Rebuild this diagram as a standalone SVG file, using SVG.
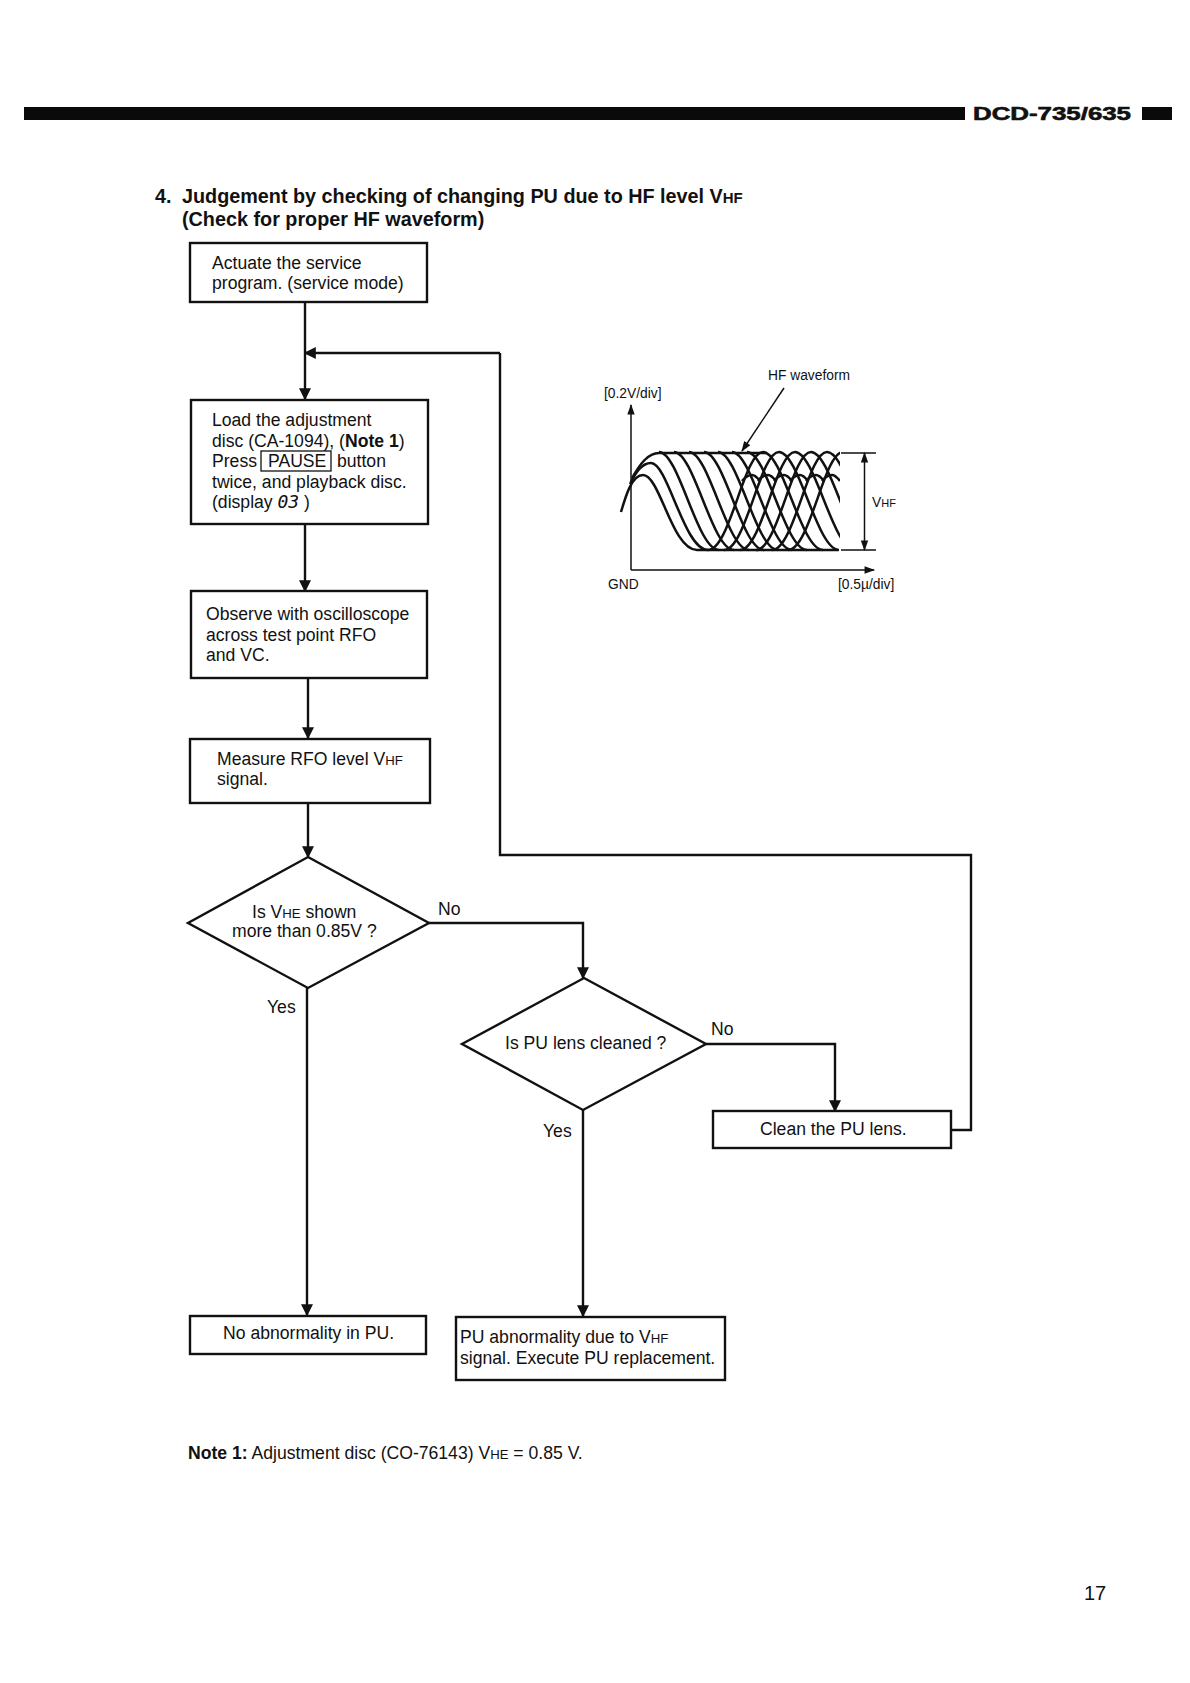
<svg xmlns="http://www.w3.org/2000/svg" xmlns:xlink="http://www.w3.org/1999/xlink" width="1190" height="1683" viewBox="0 0 1190 1683">
<style>
text{font-family:"Liberation Sans",Arial,sans-serif;font-size:17.6px;fill:#111}
.b{font-weight:700}
.s{font-size:13.2px}
.t{font-size:19.8px;font-weight:700}
.ts{font-size:15px}
.c{font-size:13.8px}
.cs{font-size:11px}
.box{fill:#fff;stroke:#111;stroke-width:2.4}
.ln{fill:none;stroke:#111;stroke-width:2.4}
.thin{fill:none;stroke:#111;stroke-width:1.5}
.wave{fill:none;stroke:#111;stroke-width:2.5}
</style>
<defs>
<marker id="ah" viewBox="0 0 10 10" refX="9" refY="5" markerWidth="5.5" markerHeight="5" markerUnits="strokeWidth" orient="auto"><path d="M0 0L10 5L0 10Z" fill="#111"/></marker>
<marker id="ahs" viewBox="0 0 10 10" refX="9" refY="5" markerWidth="12" markerHeight="7" markerUnits="strokeWidth" orient="auto-start-reverse"><path d="M0 1.500L10 5L0 8.500Z" fill="#111"/></marker>
<path id="fall" d="M0 0C20 0 38 98 60 98"/>
<path id="rise" d="M0 98C22 98 36 0 55 0"/>
<path id="bump" d="M0 6C4 1 8 0 10 0C12 0 14 1 18 6"/>
<clipPath id="cw"><rect x="615" y="445" width="225" height="112"/></clipPath>
</defs>
<rect width="1190" height="1683" fill="#fff"/>
<g id="header">
<rect x="24" y="107" width="941" height="13" fill="#0a0a0a"/>
<text x="973" y="120" class="b" style="font-size:18px;stroke:#111;stroke-width:.6" textLength="158" lengthAdjust="spacingAndGlyphs">DCD-735/635</text>
<rect x="1142" y="107" width="30" height="13" fill="#0a0a0a"/>
</g>
<g id="title">
<text x="155" y="203" class="t">4.</text>
<text x="182" y="203" class="t">Judgement by checking of changing PU due to HF level V<tspan class="ts">HF</tspan></text>
<text x="182" y="226" class="t">(Check for proper HF waveform)</text>
</g>
<g id="connectors">
<path class="ln" d="M305 302V399" marker-end="url(#ah)"/>
<path class="ln" d="M500 353H305" marker-end="url(#ah)"/>
<path class="ln" d="M951 1130H971V855H500V353"/>
<path class="ln" d="M305 524V591" marker-end="url(#ah)"/>
<path class="ln" d="M308 678V738" marker-end="url(#ah)"/>
<path class="ln" d="M308 803V857" marker-end="url(#ah)"/>
<path class="ln" d="M429 923H583V978" marker-end="url(#ah)"/>
<path class="ln" d="M706 1044H835V1111" marker-end="url(#ah)"/>
<path class="ln" d="M307 988V1315" marker-end="url(#ah)"/>
<path class="ln" d="M583 1110V1316" marker-end="url(#ah)"/>
</g>
<g id="n1">
<rect class="box" x="190" y="243" width="237" height="59"/>
<text x="212" y="269">Actuate the service</text>
<text x="212" y="289">program. (service mode)</text>
</g>
<g id="n2">
<rect class="box" x="191" y="400" width="237" height="124"/>
<text x="212" y="426">Load the adjustment</text>
<text x="212" y="446.500">disc (CA-1094), (<tspan class="b">Note 1</tspan>)</text>
<text x="212" y="467">Press</text>
<rect x="261" y="451" width="70" height="20" fill="none" stroke="#111" stroke-width="1.3"/>
<text x="268" y="467">PAUSE</text>
<text x="337" y="467">button</text>
<text x="212" y="487.500">twice, and playback disc.</text>
<text x="212" y="508">(display <tspan font-style="italic" style="font-family:'DejaVu Sans Mono',monospace;font-size:18px">03</tspan> )</text>
</g>
<g id="n3">
<rect class="box" x="191" y="591" width="236" height="87"/>
<text x="206" y="620">Observe with oscilloscope</text>
<text x="206" y="641">across test point RFO</text>
<text x="206" y="661">and VC.</text>
</g>
<g id="n4">
<rect class="box" x="190" y="739" width="240" height="64"/>
<text x="217" y="765">Measure RFO level V<tspan class="s">HF</tspan></text>
<text x="217" y="785">signal.</text>
</g>
<g id="d1">
<path class="box" d="M308 857L429 923L308 988L188 923Z"/>
<text x="252" y="918">Is V<tspan class="s">HE</tspan> shown</text>
<text x="232" y="937">more than 0.85V ?</text>
</g>
<g id="d2">
<path class="box" d="M584 978L706 1044L583 1110L462 1044Z"/>
<text x="505" y="1049">Is PU lens cleaned ?</text>
</g>
<g id="n5">
<rect class="box" x="713" y="1111" width="238" height="37"/>
<text x="760" y="1135">Clean the PU lens.</text>
</g>
<g id="n6">
<rect class="box" x="190" y="1316" width="236" height="38"/>
<text x="223" y="1339">No abnormality in PU.</text>
</g>
<g id="n7">
<rect class="box" x="456" y="1317" width="269" height="63"/>
<text x="460" y="1343">PU abnormality due to V<tspan class="s">HF</tspan></text>
<text x="460" y="1364">signal. Execute PU replacement.</text>
</g>
<g id="labels">
<text x="438" y="915">No</text>
<text x="267" y="1013">Yes</text>
<text x="711" y="1035">No</text>
<text x="543" y="1137">Yes</text>
</g>
<g id="note">
<text x="188" y="1459"><tspan class="b">Note 1:</tspan> Adjustment disc (CO-76143) V<tspan class="s">HE</tspan> = 0.85 V.</text>
</g>
<g id="chart">
<path class="thin" d="M631 570V405" marker-end="url(#ahs)"/>
<path class="thin" d="M631 570H874" marker-end="url(#ahs)"/>
<path class="thin" d="M841 453H876M841 550H876"/>
<path class="thin" d="M864.500 453V550" marker-start="url(#ahs)" marker-end="url(#ahs)"/>
<path class="thin" d="M784 388L742 451" marker-end="url(#ahs)"/>
<g class="wave" clip-path="url(#cw)">
<path d="M621 512C626 495 632 475 643 475C660 475 672 550 697 550H838"/>
<path d="M630 484C636 472 642 463 651 463C668 463 684 550 708 550"/>
<path d="M632 478C640 464 648 453 659 453H767"/>
<use href="#fall" x="659" y="452"/>
<use href="#fall" x="674" y="452"/>
<use href="#fall" x="689" y="452"/>
<use href="#fall" x="704" y="452"/>
<use href="#fall" x="718" y="452"/>
<use href="#fall" x="732" y="452"/>
<use href="#fall" x="747" y="452"/>
<use href="#fall" x="763" y="452"/>
<use href="#fall" x="779" y="452"/>
<use href="#fall" x="795" y="452"/>
<use href="#fall" x="811" y="452"/>
<use href="#fall" x="827" y="452"/>
<use href="#rise" x="708" y="452"/>
<use href="#rise" x="724" y="452"/>
<use href="#rise" x="740" y="452"/>
<use href="#rise" x="756" y="452"/>
<use href="#rise" x="772" y="452"/>
<use href="#rise" x="788" y="452"/>
<use href="#bump" x="742" y="475"/>
<use href="#bump" x="758" y="475"/>
<use href="#bump" x="774" y="475"/>
<use href="#bump" x="790" y="475"/>
<use href="#bump" x="806" y="475"/>
<use href="#bump" x="822" y="475"/>
</g>
<text x="768" y="380" class="c">HF waveform</text>
<text x="604" y="398" class="c">[0.2V/div]</text>
<text x="608" y="589" class="c">GND</text>
<text x="838" y="589" class="c">[0.5µ/div]</text>
<text x="872" y="507" class="c">V<tspan class="cs">HF</tspan></text>
</g>
<g id="page"><text x="1084" y="1600" style="font-size:20px">17</text></g>
</svg>
